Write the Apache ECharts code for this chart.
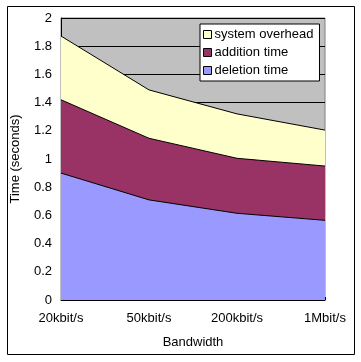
<!DOCTYPE html>
<html><head><meta charset="utf-8">
<script src="https://cdn.jsdelivr.net/npm/echarts@6/dist/echarts.min.js"></script>
<style>html,body{margin:0;padding:0;background:#fff}#c{width:361px;height:362px}</style>
</head><body><div id="c"></div>
<script>
const categories = ['20kbit/s', '50kbit/s', '200kbit/s', '1Mbit/s'];
const deletionTime = [0.90, 0.71, 0.615, 0.565];
const additionTime = [0.52, 0.437, 0.39, 0.385];
const systemOverhead = [0.452, 0.343, 0.315, 0.255];
const yTicks = [0, 0.2, 0.4, 0.6, 0.8, 1, 1.2, 1.4, 1.6, 1.8, 2];

const font = 'Arial, "Liberation Sans", sans-serif';
const chart = echarts.init(document.getElementById('c'), null, {renderer: 'canvas'});
function mk(name, data, color) {
  return {
    name: name, type: 'line', stack: 'total', data: data,
    showSymbol: false, symbol: 'none',
    lineStyle: {color: '#000', width: 1},
    itemStyle: {color: color},
    areaStyle: {color: color, opacity: 1},
    emphasis: {disabled: true}
  };
}
chart.setOption({
  animation: false,
  backgroundColor: '#fff',
  textStyle: {fontFamily: font, color: '#000'},
  graphic: [{type: 'rect', shape: {x: 7.5, y: 6.5, width: 347, height: 348}, style: {fill: 'none', stroke: '#000', lineWidth: 1}, z: 100}],
  grid: {left: 61, right: 36, top: 18, bottom: 62, containLabel: false, outerBoundsMode: 'none', show: true, backgroundColor: '#C0C0C0', borderColor: '#808080', borderWidth: 1},
  legend: {
    orient: 'vertical', left: 200, top: 24,
    data: ['system overhead', 'addition time', 'deletion time'],
    icon: 'rect', itemWidth: 8, itemHeight: 8, itemGap: 5,
    backgroundColor: '#fff', borderColor: '#000', borderWidth: 1,
    padding: [4, 6, 4, 3],
    itemStyle: {borderColor: '#000', borderWidth: 1},
    textStyle: {fontFamily: font, fontSize: 13, color: '#000', lineHeight: 13, padding: [0, 0, 0, -2]}
  },
  xAxis: {
    type: 'category', data: categories, boundaryGap: false,
    name: 'Bandwidth', nameLocation: 'middle', nameGap: 36,
    nameTextStyle: {fontFamily: font, fontSize: 13, color: '#000'},
    axisLine: {lineStyle: {color: '#000', width: 1}},
    axisTick: {show: true, inside: true, length: 3, lineStyle: {color: '#000'}},
    axisLabel: {fontFamily: font, fontSize: 13, color: '#000', margin: 12},
    splitLine: {show: false}
  },
  yAxis: {
    type: 'value', min: 0, max: 2, interval: 0.2,
    name: 'Time (seconds)', nameLocation: 'middle', nameGap: 39,
    nameTextStyle: {fontFamily: font, fontSize: 13, color: '#000'},
    axisLine: {show: true, lineStyle: {color: '#000', width: 1}},
    axisTick: {show: false},
    axisLabel: {fontFamily: font, fontSize: 13, color: '#000', margin: 9,
      formatter: function (v) { const t = yTicks.find(x => Math.abs(x - v) < 1e-6); return t === undefined ? '' : String(t); }},
    splitLine: {show: true, lineStyle: {color: '#000', width: 1}}
  },
  series: [
    mk('deletion time', deletionTime, '#9999FF'),
    mk('addition time', additionTime, '#993366'),
    mk('system overhead', systemOverhead, '#FFFFCC')
  ]
});
</script></body></html>
